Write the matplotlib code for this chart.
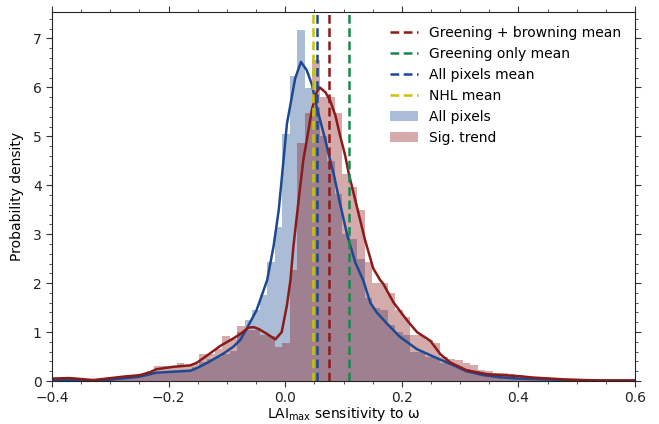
import matplotlib
matplotlib.use("Agg")
import matplotlib.pyplot as plt
from matplotlib.lines import Line2D
from matplotlib.patches import Patch
import numpy as np

# histogram bins (shared by both samples)
BIN_START = -0.405
BIN_WIDTH = 0.0129
N_BINS = 78

# density per bin
all_pixels_hist = [
    0.02, 0.02, 0.02, 0.01, 0.01, 0.01, 0.02, 0.02, 0.04, 0.05,
    0.07, 0.08, 0.10, 0.13, 0.17, 0.18, 0.19, 0.20, 0.20, 0.28,
    0.39, 0.45, 0.49, 0.55, 0.62, 1.00, 1.24, 1.45, 1.76, 2.43,
    3.14, 5.04, 6.24, 7.18, 5.98, 5.60, 5.00, 4.50, 3.83, 3.00,
    2.90, 2.50, 1.69, 1.49, 1.45, 1.14, 1.00, 0.95, 0.60, 0.59,
    0.50, 0.48, 0.37, 0.35, 0.27, 0.24, 0.17, 0.13, 0.11, 0.09,
    0.07, 0.06, 0.05, 0.04, 0.04, 0.03, 0.03, 0.02, 0.02, 0.02,
    0.02, 0.01, 0.01, 0.01, 0.01, 0.01, 0.01, 0.01,
]
sig_trend_hist = [
    0.05, 0.06, 0.06, 0.04, 0.03, 0.02, 0.03, 0.05, 0.08, 0.09,
    0.11, 0.12, 0.15, 0.20, 0.31, 0.30, 0.28, 0.37, 0.32, 0.35,
    0.56, 0.55, 0.65, 0.92, 0.85, 1.12, 1.05, 1.05, 0.94, 0.92,
    0.70, 0.78, 2.27, 4.86, 5.47, 6.55, 5.80, 5.80, 5.47, 4.24,
    3.96, 3.49, 2.43, 2.00, 2.00, 1.80, 1.45, 1.31, 0.94, 0.94,
    0.84, 0.78, 0.49, 0.45, 0.43, 0.37, 0.33, 0.22, 0.20, 0.16,
    0.16, 0.15, 0.12, 0.10, 0.08, 0.06, 0.05, 0.04, 0.04, 0.03,
    0.03, 0.02, 0.02, 0.02, 0.01, 0.01, 0.01, 0.01,
]

# kernel density estimates
all_kde_x = [-0.40, -0.36, -0.33, -0.306, -0.28, -0.249, -0.221, -0.192, -0.163, -0.152,
             -0.134, -0.106, -0.089, -0.077, -0.066, -0.049, -0.031, -0.020, -0.011, -0.005,
             0.003, 0.009, 0.017, 0.027, 0.037, 0.046, 0.054, 0.063, 0.069, 0.073,
             0.083, 0.094, 0.106, 0.12, 0.134, 0.146, 0.157, 0.174, 0.197, 0.226,
             0.254, 0.283, 0.311, 0.34, 0.369, 0.40, 0.426, 0.483, 0.54, 0.60]
all_kde_y = [0.02, 0.02, 0.01, 0.02, 0.05, 0.09, 0.17, 0.19, 0.21, 0.26,
             0.37, 0.56, 0.70, 0.84, 1.07, 1.45, 2.06, 2.75, 3.50, 4.25,
             5.26, 5.65, 6.18, 6.52, 6.35, 6.05, 5.60, 5.19, 4.92, 4.71,
             4.24, 3.63, 3.00, 2.43, 2.05, 1.60, 1.40, 1.18, 0.90, 0.65,
             0.50, 0.35, 0.20, 0.12, 0.075, 0.05, 0.04, 0.02, 0.01, 0.01]

sig_kde_x = [-0.40, -0.37, -0.35, -0.329, -0.306, -0.277, -0.249, -0.232, -0.221, -0.192,
             -0.163, -0.152, -0.134, -0.111, -0.089, -0.077, -0.063, -0.054, -0.045, -0.031,
             -0.017, -0.006, 0.003, 0.009, 0.014, 0.023, 0.031, 0.037, 0.046, 0.054,
             0.059, 0.069, 0.077, 0.086, 0.094, 0.103, 0.109, 0.123, 0.137, 0.151,
             0.163, 0.168, 0.186, 0.209, 0.226, 0.249, 0.266, 0.283, 0.311, 0.346,
             0.40, 0.426, 0.483, 0.54, 0.60]
sig_kde_y = [0.05, 0.06, 0.04, 0.02, 0.05, 0.09, 0.12, 0.18, 0.24, 0.29,
             0.32, 0.37, 0.52, 0.72, 0.87, 0.96, 1.09, 1.10, 1.06, 0.96,
             0.85, 1.00, 1.55, 2.06, 2.74, 3.69, 4.51, 4.92, 5.56, 5.90,
             6.00, 5.90, 5.73, 5.43, 5.02, 4.60, 4.24, 3.56, 2.88, 2.30,
             2.06, 1.99, 1.60, 1.24, 1.00, 0.82, 0.55, 0.38, 0.22, 0.14,
             0.10, 0.07, 0.03, 0.01, 0.01]

# means shown as vertical lines
mean_labels = ["Greening + browning mean", "Greening only mean", "All pixels mean", "NHL mean"]
mean_values = [0.075, 0.109, 0.054, 0.047]
mean_colors = ["#8b1a1a", "#158a4c", "#1b4a92", "#c9c300"]

BLUE = "#1b4a92"
RED = "#8b1a1a"
HIST_ALPHA = 0.37

plt.rcParams["font.family"] = "DejaVu Sans"
plt.rcParams["font.size"] = 10

fig = plt.figure(figsize=(6.59, 4.24), dpi=100)
ax = fig.add_axes([0.0789, 0.1014, 0.8847, 0.8703])

edges = BIN_START + BIN_WIDTH * np.arange(N_BINS + 1)
centers = 0.5 * (edges[:-1] + edges[1:])

ax.hist(centers, bins=edges, weights=all_pixels_hist, color=BLUE, alpha=HIST_ALPHA, lw=0)
ax.hist(centers, bins=edges, weights=sig_trend_hist, color=RED, alpha=HIST_ALPHA, lw=0)
ax.plot(all_kde_x, all_kde_y, color=BLUE, lw=1.8)
ax.plot(sig_kde_x, sig_kde_y, color=RED, lw=1.8)

for val, col in zip(mean_values, mean_colors):
    ax.axvline(val, color=col, ls="--", lw=1.8, dashes=(3.5, 1.8))

ax.set_xlim(-0.4, 0.6)
ax.set_ylim(0, 7.54)
ax.set_xticks(np.arange(-0.4, 0.61, 0.2))
ax.set_xticks(np.arange(-0.4, 0.61, 0.05), minor=True)
ax.set_yticks(np.arange(0, 8))
ax.set_yticks(np.arange(0, 7.5, 0.2), minor=True)
ax.tick_params(which="both", top=True, right=True, direction="out", colors="#333333",
               labelcolor="#222222")
ax.tick_params(which="major", length=4)
ax.tick_params(which="minor", length=2)
for sp in ax.spines.values():
    sp.set_color("#222222")
ax.set_xlabel(r"LAI$_{\mathrm{max}}$ sensitivity to ω", labelpad=0)
ax.set_ylabel("Probability density", labelpad=6)

handles = [Line2D([], [], color=c, ls="--", lw=1.8, dashes=(3.5, 1.8)) for c in mean_colors]
handles += [Patch(color=BLUE, alpha=HIST_ALPHA, lw=0), Patch(color=RED, alpha=HIST_ALPHA, lw=0)]
labels = mean_labels + ["All pixels", "Sig. trend"]
ax.legend(handles, labels, loc="upper right", frameon=False, borderaxespad=0.6)

fig.savefig("out.png", dpi=100)
